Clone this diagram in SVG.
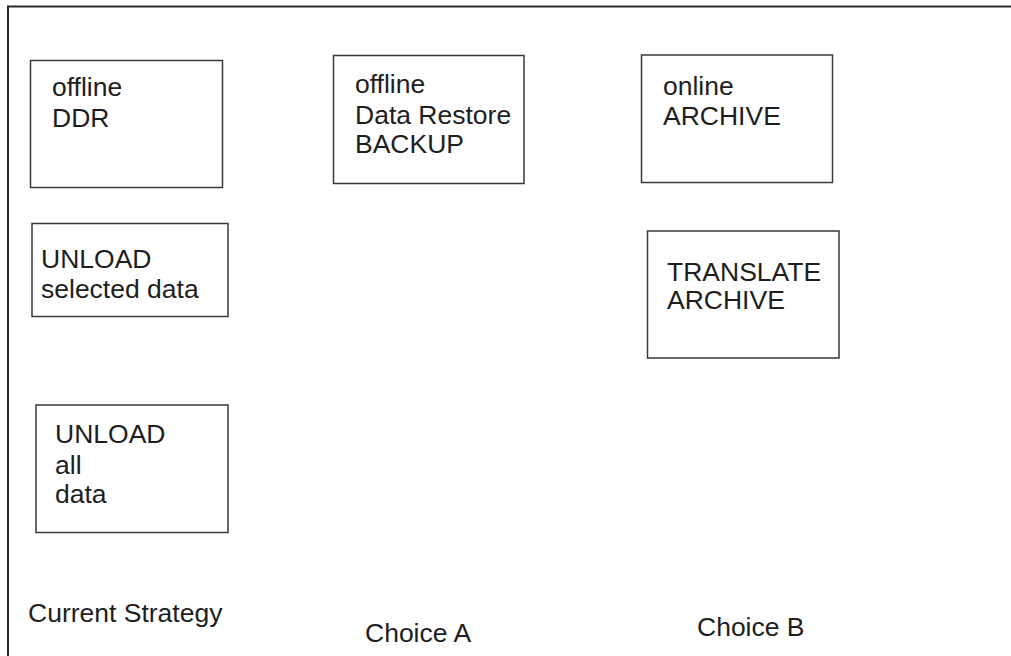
<svg xmlns="http://www.w3.org/2000/svg" width="1011" height="656" viewBox="0 0 1011 656">
  <style>
    .box { fill: #ffffff; stroke: #3a3a3a; stroke-width: 1.5; }
    .frame { fill: none; stroke: #2a2a2a; stroke-width: 2; }
    .lbl { font-family: "Liberation Sans", Arial, sans-serif; font-size: 26.5px; fill: #1e1e1e; }
  </style>
  <rect width="1011" height="656" fill="#ffffff"/>
  <!-- outer frame: top and left edges only -->
  <path class="frame" d="M8,656 V6.5 H1011"/>

  <g id="connectors"></g>

  <g id="offline-ddr">
    <rect class="box" x="30.5" y="60.5" width="192" height="127"/>
    <text class="lbl" x="52" y="96">offline</text>
    <text class="lbl" x="52" y="127">DDR</text>
  </g>

  <g id="unload-selected">
    <rect class="box" x="32" y="223.5" width="196" height="93"/>
    <text class="lbl" x="41" y="268">UNLOAD</text>
    <text class="lbl" x="41" y="298">selected data</text>
  </g>

  <g id="unload-all">
    <rect class="box" x="36" y="405" width="192" height="127.5"/>
    <text class="lbl" x="55" y="443">UNLOAD</text>
    <text class="lbl" x="55" y="474">all</text>
    <text class="lbl" x="55" y="503">data</text>
  </g>

  <g id="offline-backup">
    <rect class="box" x="333.5" y="55.5" width="190.5" height="128"/>
    <text class="lbl" x="355" y="93">offline</text>
    <text class="lbl" x="355" y="124">Data Restore</text>
    <text class="lbl" x="355" y="153">BACKUP</text>
  </g>

  <g id="online-archive">
    <rect class="box" x="641.5" y="55" width="191" height="127.5"/>
    <text class="lbl" x="663" y="95">online</text>
    <text class="lbl" x="663" y="125">ARCHIVE</text>
  </g>

  <g id="translate-archive">
    <rect class="box" x="647.5" y="231" width="191.5" height="127"/>
    <text class="lbl" x="667" y="281">TRANSLATE</text>
    <text class="lbl" x="667" y="309">ARCHIVE</text>
  </g>

  <g id="column-labels">
    <text class="lbl" x="28" y="622">Current Strategy</text>
    <text class="lbl" x="365" y="642">Choice A</text>
    <text class="lbl" x="697" y="636">Choice B</text>
  </g>
</svg>
